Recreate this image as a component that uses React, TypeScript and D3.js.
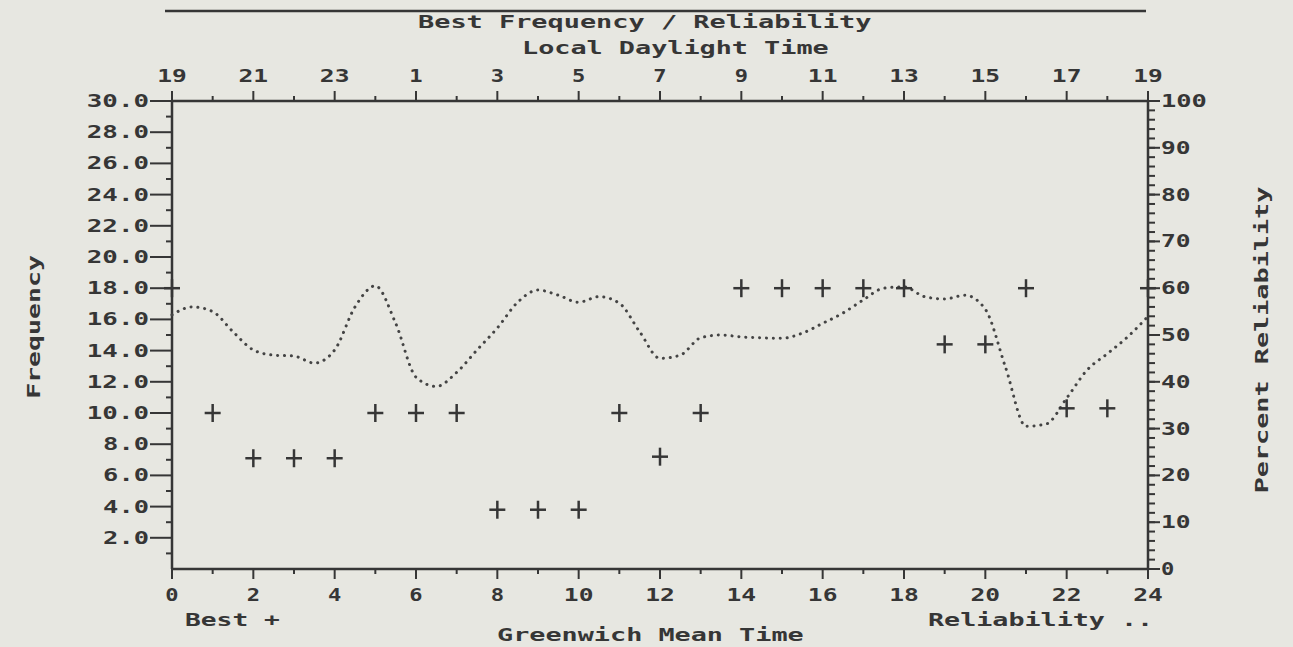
import React from 'react';
import * as d3 from 'd3';

// GMT hours and the plotted "best frequency" crosses (MHz)
const HOURS = [0, 1, 2, 3, 4, 5, 6, 7, 8, 9, 10, 11, 12, 13, 14, 15, 16, 17, 18, 19, 20, 21, 22, 23, 24];
const BEST_FREQ = [18.0, 10.0, 7.1, 7.1, 7.1, 10.0, 10.0, 10.0, 3.8, 3.8, 3.8, 10.0, 7.2, 10.0, 18.0, 18.0, 18.0, 18.0, 18.0, 14.4, 14.4, 18.0, 10.3, 10.3, 18.0];

// reliability curve (percent), read every half hour
const REL_TIMES = [0, 0.5, 1, 1.5, 2, 2.5, 3, 3.5, 4, 4.5, 5, 5.5, 6, 6.5, 7, 7.5, 8, 8.5, 9, 9.5, 10, 10.5, 11, 11.5, 12, 12.5, 13, 13.5, 14, 14.5, 15, 15.5, 16, 16.5, 17, 17.5, 18, 18.5, 19, 19.5, 20, 20.5, 21, 21.5, 22, 22.5, 23, 23.5, 24];
const RELIABILITY = [54.3, 56, 55, 50.7, 46.8, 45.7, 45.5, 44, 46.8, 56, 60.5, 52.5, 41, 39, 42, 46.8, 51.5, 57, 59.6, 58.5, 57, 58.2, 56.8, 50.7, 45, 45.7, 49.4, 50, 49.6, 49.4, 49.3, 50.4, 52.5, 54.7, 57.5, 60, 60.3, 58.2, 57.7, 58.5, 55.5, 43, 30.5, 31, 36.5, 42.5, 46, 49.6, 54];

// axis ticks and labels
const GMT_MAJOR = [0, 2, 4, 6, 8, 10, 12, 14, 16, 18, 20, 22, 24];
const GMT_MINOR = [1, 3, 5, 7, 9, 11, 13, 15, 17, 19, 21, 23];
const LOCAL_LABELS = ['19', '21', '23', '1', '3', '5', '7', '9', '11', '13', '15', '17', '19'];
const FREQ_TICKS = [2, 4, 6, 8, 10, 12, 14, 16, 18, 20, 22, 24, 26, 28, 30];
const FREQ_MINOR = [1, 3, 5, 7, 9, 11, 13, 15, 17, 19, 21, 23, 25, 27, 29];
const REL_TICKS = [0, 10, 20, 30, 40, 50, 60, 70, 80, 90, 100];

const W = 1293, H = 647;
const BG = '#e7e7e1';
const INK = '#363636';
const FONT = '"DejaVu Sans Mono", monospace';
const FS = 17;
const PITCH = 16.3; // printer font: one character cell

const x = d3.scaleLinear().domain([0, 24]).range([172, 1148]);
const yF = d3.scaleLinear().domain([0, 30]).range([569, 101]);
const yR = d3.scaleLinear().domain([0, 100]).range([569, 101]);

function T(props: any) {
  const { anchor = 'start', children, ...rest } = props;
  const s = String(children);
  const len = s.length * PITCH - 3;
  return (
    <text fontFamily={FONT} fontWeight="bold" fontSize={FS} fill={INK}
      textAnchor={anchor} textLength={len} lengthAdjust="spacingAndGlyphs" {...rest}>{s}</text>
  );
}

export default function App() {
  const relLine = d3.line<number>()
    .x((_, i) => x(REL_TIMES[i]))
    .y(d => yR(d))
    .curve(d3.curveMonotoneX);

  const [x0, x1] = x.range();
  const [yb, yt] = yF.range();

  return (
    <svg width={W} height={H} style={{ position: 'absolute', left: 0, top: 0 }}>
      <rect width={W} height={H} fill={BG} />

      {/* header rule (text above is cut off) */}
      <line x1={165} x2={1146} y1={11} y2={11} stroke={INK} strokeWidth={2.5} />

      <T x={418} y={28}>Best Frequency / Reliability</T>
      <T x={522} y={54}>Local Daylight Time</T>

      {/* frame */}
      <g stroke={INK} strokeWidth={2.5} fill="none">
        <line x1={x0} x2={x1} y1={yt} y2={yt} />
        <line x1={x0} x2={x1} y1={yb} y2={yb} />
        <line x1={x0} x2={x0} y1={yt} y2={yb} />
        <line x1={x1} x2={x1} y1={yt} y2={yb} />
      </g>

      {/* top axis: local time */}
      <g stroke={INK} strokeWidth={2}>
        {GMT_MAJOR.map(h => <line key={h} x1={x(h)} x2={x(h)} y1={yt} y2={yt - 10} />)}
        {GMT_MINOR.map(h => <line key={h} x1={x(h)} x2={x(h)} y1={yt} y2={yt - 5} />)}
      </g>
      {GMT_MAJOR.map((h, i) => <T key={h} x={x(h)} y={82} anchor="middle">{LOCAL_LABELS[i]}</T>)}

      {/* bottom axis: GMT */}
      <g stroke={INK} strokeWidth={2}>
        {GMT_MAJOR.map(h => <line key={h} x1={x(h)} x2={x(h)} y1={yb} y2={yb + 10} />)}
        {GMT_MINOR.map(h => <line key={h} x1={x(h)} x2={x(h)} y1={yb} y2={yb + 5} />)}
      </g>
      {GMT_MAJOR.map(h => <T key={h} x={x(h)} y={601} anchor="middle">{h}</T>)}

      {/* left axis: frequency */}
      <g stroke={INK} strokeWidth={2}>
        {FREQ_TICKS.map(v => <line key={v} x1={x0} x2={x0 - 22} y1={yF(v)} y2={yF(v)} />)}
        {FREQ_MINOR.map(v => <line key={v} x1={x0} x2={x0 - 6} y1={yF(v)} y2={yF(v)} />)}
      </g>
      {FREQ_TICKS.map(v => (
        <T key={v} x={149} y={yF(v) + 6} anchor="end">{v.toFixed(1)}</T>
      ))}

      {/* right axis: reliability */}
      <g stroke={INK} strokeWidth={2}>
        {REL_TICKS.map(v => <line key={v} x1={x1} x2={x1 + 12} y1={yR(v)} y2={yR(v)} />)}
        {d3.range(0, 101, 2).map(v => <line key={v} x1={x1} x2={x1 + 7} y1={yR(v)} y2={yR(v)} />)}
      </g>
      {REL_TICKS.map(v => <T key={v} x={1161} y={yR(v) + 6}>{v}</T>)}

      {/* axis titles */}
      <T transform="translate(40,327) rotate(-90)" anchor="middle">Frequency</T>
      <T transform="translate(1268,340) rotate(-90)" anchor="middle">Percent Reliability</T>

      {/* reliability dotted curve */}
      <path d={relLine(RELIABILITY) || ''} fill="none" stroke="#444" strokeWidth={3}
        strokeDasharray="0.1 6.8" strokeLinecap="round" />

      {/* best frequency crosses */}
      <g stroke={INK} strokeWidth={2.5}>
        {HOURS.map((h, i) => (
          <g key={h} transform={`translate(${x(h)},${yF(BEST_FREQ[i])})`}>
            <line x1={-8} x2={8} y1={0} y2={0} />
            <line x1={0} x2={0} y1={-9} y2={9} />
          </g>
        ))}
      </g>

      {/* legend / bottom titles */}
      <T x={185} y={626}>Best +</T>
      <T x={928} y={626}>Reliability ..</T>
      <T x={497} y={641}>Greenwich Mean Time</T>
    </svg>
  );
}
